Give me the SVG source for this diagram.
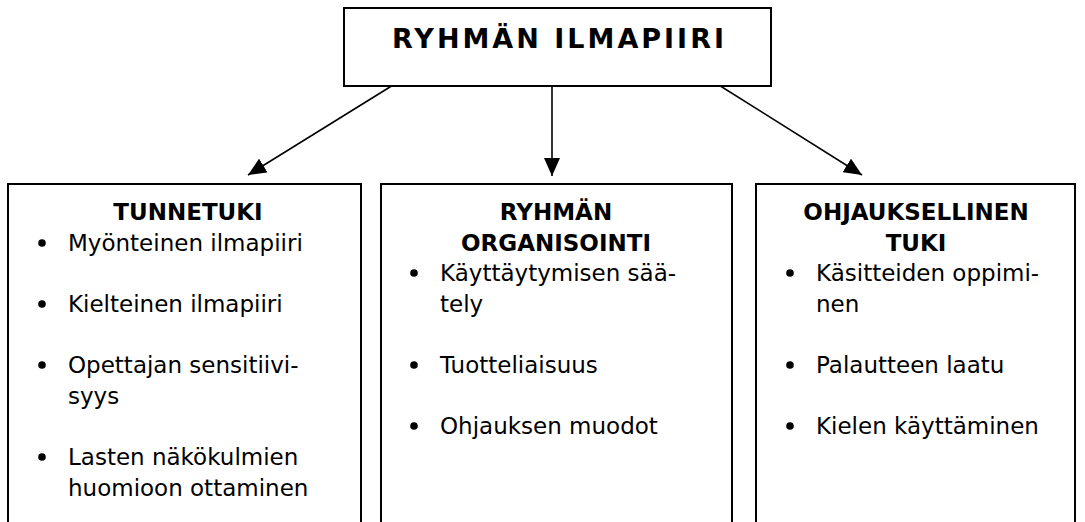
<svg xmlns="http://www.w3.org/2000/svg" width="1085" height="522" viewBox="0 0 1085 522">
<defs>
<style>
.box{fill:#fff;stroke:#000;stroke-width:2}
.t{font-family:"DejaVu Sans","Verdana",sans-serif;font-size:23px;fill:#000}
.h{font-family:"DejaVu Sans","Verdana",sans-serif;font-size:23px;font-weight:bold;fill:#000;text-anchor:middle}
.ttl{font-family:"DejaVu Sans","Verdana",sans-serif;font-size:27px;font-weight:bold;fill:#000}
.c{stroke:#000;stroke-width:1.6;fill:none}
.b{fill:#000}
</style>
<marker id="arr" viewBox="0 0 18 16" refX="18" refY="8" markerWidth="18" markerHeight="16" orient="auto" markerUnits="userSpaceOnUse">
<path d="M0,0 L18,8 L0,16 Z" fill="#000"/>
</marker>
</defs>
<rect width="1085" height="522" fill="#fff"/>
<g id="connectors">
<line class="c" x1="398" y1="82" x2="248" y2="175" marker-end="url(#arr)"/>
<line class="c" x1="552" y1="82" x2="552" y2="176" marker-end="url(#arr)"/>
<line class="c" x1="714" y1="82" x2="862" y2="175" marker-end="url(#arr)"/>
</g>
<g id="node-top">
<rect class="box" x="344" y="8" width="427" height="78"/>
<text class="ttl" x="392" y="48" textLength="332" lengthAdjust="spacing">RYHMÄN ILMAPIIRI</text>
</g>
<g id="node-tunnetuki">
<rect class="box" x="8" y="184" width="353" height="350"/>
<text class="h" x="188" y="220">TUNNETUKI</text>
<circle class="b" cx="42" cy="243" r="3.8"/>
<text class="t" x="68" y="251">Myönteinen ilmapiiri</text>
<circle class="b" cx="42" cy="304" r="3.8"/>
<text class="t" x="68" y="312">Kielteinen ilmapiiri</text>
<circle class="b" cx="42" cy="365" r="3.8"/>
<text class="t" x="68" y="373">Opettajan sensitiivi-</text>
<text class="t" x="68" y="404">syys</text>
<circle class="b" cx="42" cy="457" r="3.8"/>
<text class="t" x="68" y="465">Lasten näkökulmien</text>
<text class="t" x="68" y="496">huomioon ottaminen</text>
</g>
<g id="node-organisointi">
<rect class="box" x="381" y="184" width="351" height="350"/>
<text class="h" x="556" y="220">RYHMÄN</text>
<text class="h" x="556" y="251">ORGANISOINTI</text>
<circle class="b" cx="414" cy="273" r="3.8"/>
<text class="t" x="440" y="281">Käyttäytymisen sää-</text>
<text class="t" x="440" y="312">tely</text>
<circle class="b" cx="414" cy="365" r="3.8"/>
<text class="t" x="440" y="373">Tuotteliaisuus</text>
<circle class="b" cx="414" cy="426" r="3.8"/>
<text class="t" x="440" y="434">Ohjauksen muodot</text>
</g>
<g id="node-ohjauksellinen">
<rect class="box" x="756" y="184" width="319" height="350"/>
<text class="h" x="916" y="220">OHJAUKSELLINEN</text>
<text class="h" x="916" y="251">TUKI</text>
<circle class="b" cx="790" cy="273" r="3.8"/>
<text class="t" x="816" y="281">Käsitteiden oppimi-</text>
<text class="t" x="816" y="312">nen</text>
<circle class="b" cx="790" cy="365" r="3.8"/>
<text class="t" x="816" y="373">Palautteen laatu</text>
<circle class="b" cx="790" cy="426" r="3.8"/>
<text class="t" x="816" y="434">Kielen käyttäminen</text>
</g>
</svg>
